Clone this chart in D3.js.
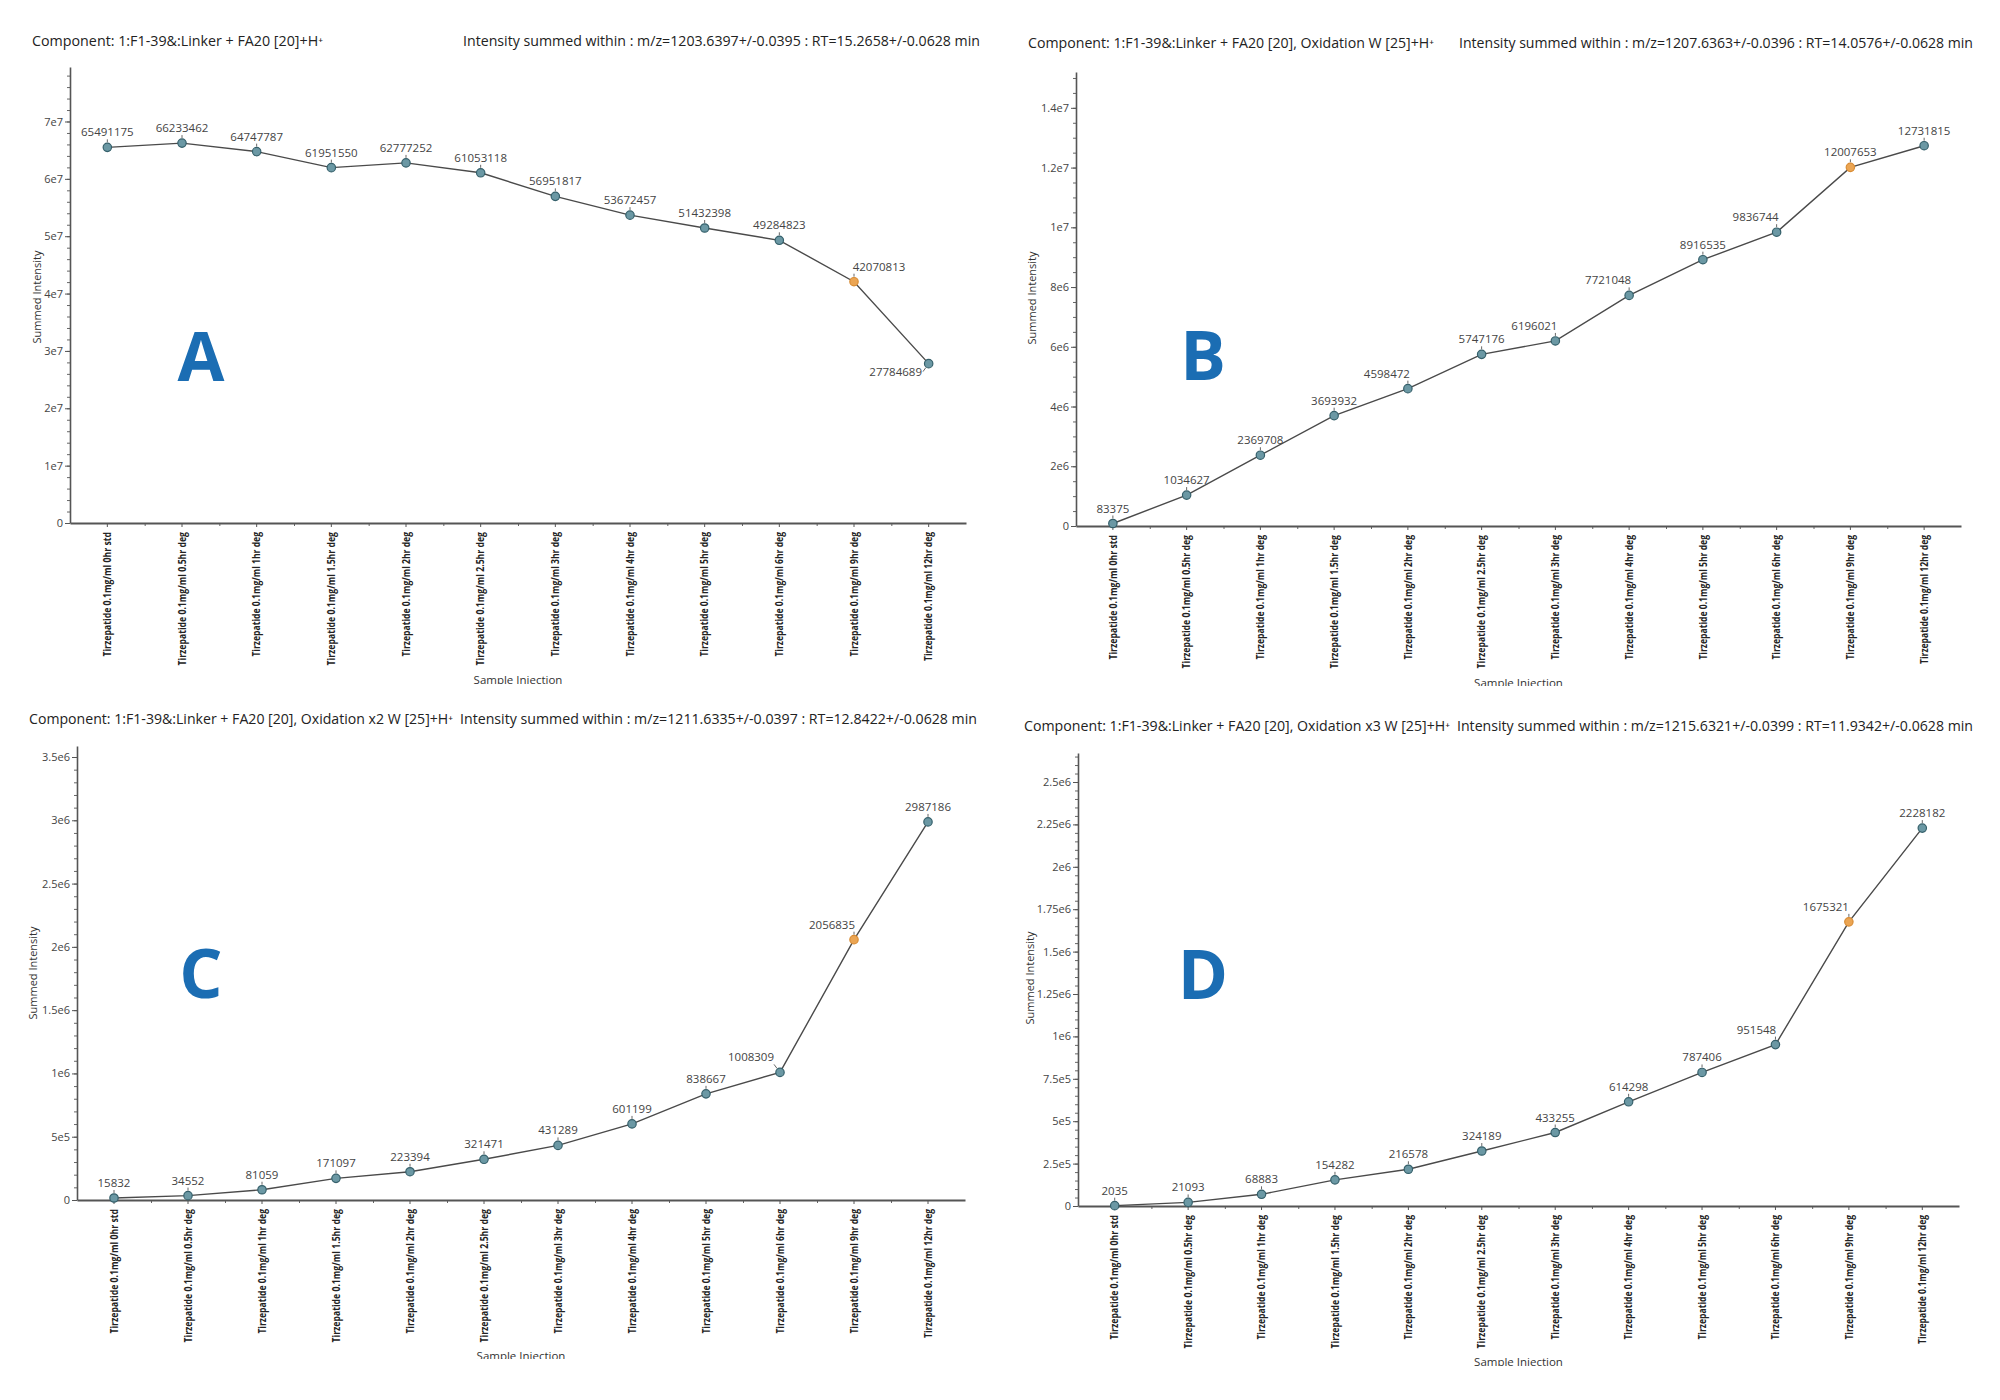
<!DOCTYPE html>
<html><head><meta charset="utf-8">
<script src="https://cdn.jsdelivr.net/npm/d3@7"></script>
<style>body{margin:0;background:#fff}text{font-family:"Open Sans","Liberation Sans",sans-serif}</style>
</head><body><svg id="c" width="2000" height="1400"></svg>
<script>
// ---------- DATA ----------
const categories = [
  "Tirzepatide 0.1mg/ml 0hr std", "Tirzepatide 0.1mg/ml 0.5hr deg", "Tirzepatide 0.1mg/ml 1hr deg",
  "Tirzepatide 0.1mg/ml 1.5hr deg", "Tirzepatide 0.1mg/ml 2hr deg", "Tirzepatide 0.1mg/ml 2.5hr deg",
  "Tirzepatide 0.1mg/ml 3hr deg", "Tirzepatide 0.1mg/ml 4hr deg", "Tirzepatide 0.1mg/ml 5hr deg",
  "Tirzepatide 0.1mg/ml 6hr deg", "Tirzepatide 0.1mg/ml 9hr deg", "Tirzepatide 0.1mg/ml 12hr deg"
];
const valuesA = [65491175, 66233462, 64747787, 61951550, 62777252, 61053118, 56951817, 53672457, 51432398, 49284823, 42070813, 27784689];
const valuesB = [83375, 1034627, 2369708, 3693932, 4598472, 5747176, 6196021, 7721048, 8916535, 9836744, 12007653, 12731815];
const valuesC = [15832, 34552, 81059, 171097, 223394, 321471, 431289, 601199, 838667, 1008309, 2056835, 2987186];
const valuesD = [2035, 21093, 68883, 154282, 216578, 324189, 433255, 614298, 787406, 951548, 1675321, 2228182];
const highlightIndex = 10;

const yTicksA = [0, 1e7, 2e7, 3e7, 4e7, 5e7, 6e7, 7e7];
const yTickLabelsA = ["0", "1e7", "2e7", "3e7", "4e7", "5e7", "6e7", "7e7"];
const yTicksB = [0, 2e6, 4e6, 6e6, 8e6, 1e7, 1.2e7, 1.4e7];
const yTickLabelsB = ["0", "2e6", "4e6", "6e6", "8e6", "1e7", "1.2e7", "1.4e7"];
const yTicksC = [0, 5e5, 1e6, 1.5e6, 2e6, 2.5e6, 3e6, 3.5e6];
const yTickLabelsC = ["0", "5e5", "1e6", "1.5e6", "2e6", "2.5e6", "3e6", "3.5e6"];
const yTicksD = [0, 2.5e5, 5e5, 7.5e5, 1e6, 1.25e6, 1.5e6, 1.75e6, 2e6, 2.25e6, 2.5e6];
const yTickLabelsD = ["0", "2.5e5", "5e5", "7.5e5", "1e6", "1.25e6", "1.5e6", "1.75e6", "2e6", "2.25e6", "2.5e6"];

const titlesLeft = [
  "Component: 1:F1-39&:Linker + FA20 [20]+H⁺",
  "Component: 1:F1-39&:Linker + FA20 [20], Oxidation W [25]+H⁺",
  "Component: 1:F1-39&:Linker + FA20 [20], Oxidation x2 W [25]+H⁺",
  "Component: 1:F1-39&:Linker + FA20 [20], Oxidation x3 W [25]+H⁺"
];
const titlesRight = [
  "Intensity summed within : m/z=1203.6397+/-0.0395 : RT=15.2658+/-0.0628 min",
  "Intensity summed within : m/z=1207.6363+/-0.0396 : RT=14.0576+/-0.0628 min",
  "Intensity summed within : m/z=1211.6335+/-0.0397 : RT=12.8422+/-0.0628 min",
  "Intensity summed within : m/z=1215.6321+/-0.0399 : RT=11.9342+/-0.0628 min"
];
const panelLetters = ["A", "B", "C", "D"];
const yAxisTitle = "Summed Intensity";
const xAxisTitle = "Sample Injection";

// ---------- LAYOUT ----------
const panels = [
  {values: valuesA, ticks: yTicksA, tickLabels: yTickLabelsA, max: 7.95e7, minor: 2e6,
   ax0: 70, ax1: 966, y0: 523, yTop: 67,
   tl: [32, 291], tr: [463, 517], ty: 46, yl: [37, 297], letter: [201, 357], xt: 680, clip: 684,
   offs: {10: [25, -11], 11: [-33, 12]}},
  {values: valuesB, ticks: yTicksB, tickLabels: yTickLabelsB, max: 1.52e7, minor: 5e5,
   ax0: 1076, ax1: 1961, y0: 526, yTop: 72,
   tl: [1028, 406], tr: [1459, 514], ty: 48, yl: [1032, 298], letter: [1203, 356], xt: 683, clip: 686,
   offs: {4: [-21, -11], 6: [-21, -11], 7: [-21, -11], 9: [-21, -11]}},
  {values: valuesC, ticks: yTicksC, tickLabels: yTickLabelsC, max: 3.587e6, minor: 1e5,
   ax0: 77, ax1: 965, y0: 1200, yTop: 746,
   tl: [29, 424], tr: [460, 517], ty: 724, yl: [33, 973], letter: [201, 974], xt: 1356, clip: 1359,
   offs: {9: [-29, -11], 10: [-22, -11]}},
  {values: valuesD, ticks: yTicksD, tickLabels: yTickLabelsD, max: 2.671e6, minor: 5e4,
   ax0: 1078, ax1: 1959, y0: 1206, yTop: 753,
   tl: [1024, 426], tr: [1457, 516], ty: 731, yl: [1030, 978], letter: [1203, 975], xt: 1362, clip: 1366,
   offs: {9: [-19, -11], 10: [-23, -11]}}
];

const svg = d3.select("#c");
const defs = svg.append("defs");

panels.forEach((p, pi) => {
  const g = svg.append("g");
  const x = d3.scaleBand().domain(categories).range([p.ax0, p.ax1]).padding(0);
  const cx = i => x(categories[i]) + x.bandwidth() / 2;
  const y = d3.scaleLinear().domain([0, p.max]).range([p.y0, p.yTop]);

  // titles
  g.append("text").attr("x", p.tl[0]).attr("y", p.ty).attr("font-size", 14).attr("fill", "#222")
    .attr("textLength", p.tl[1]).attr("lengthAdjust", "spacingAndGlyphs").text(titlesLeft[pi]);
  g.append("text").attr("x", p.tr[0]).attr("y", p.ty).attr("font-size", 14).attr("fill", "#222")
    .attr("textLength", p.tr[1]).attr("lengthAdjust", "spacingAndGlyphs").text(titlesRight[pi]);

  // minor y ticks
  g.append("g").attr("transform", `translate(${p.ax0},0)`)
    .call(d3.axisLeft(y).tickValues(d3.range(0, p.max, p.minor)).tickSize(3).tickFormat(""))
    .call(s => s.select(".domain").remove())
    .selectAll("line").attr("stroke", "#666");
  // major y axis
  const ya = g.append("g").attr("transform", `translate(${p.ax0},0)`)
    .call(d3.axisLeft(y).tickValues(p.ticks).tickFormat((d, i) => p.tickLabels[i]).tickSize(5).tickSizeOuter(0));
  ya.select(".domain").attr("stroke", "#555").attr("stroke-width", 1.6);
  ya.selectAll(".tick line").attr("stroke", "#555");
  ya.selectAll(".tick text").attr("font-size", 11).attr("fill", "#444")
    .attr("font-family", "'Open Sans',sans-serif").attr("x", -7);

  // minor x ticks (band boundaries)
  g.append("g").attr("transform", `translate(0,${p.y0})`)
    .call(d3.axisBottom(d3.scaleLinear().domain([0, 12]).range([p.ax0, p.ax1]))
      .tickValues(d3.range(1, 12)).tickSize(3).tickFormat(""))
    .call(s => s.select(".domain").remove())
    .selectAll("line").attr("stroke", "#666");
  // major x axis
  const xa = g.append("g").attr("transform", `translate(0,${p.y0})`)
    .call(d3.axisBottom(x).tickSize(4).tickSizeOuter(0));
  xa.select(".domain").attr("stroke", "#555").attr("stroke-width", 2.2);
  xa.selectAll(".tick line").attr("stroke", "#555");
  xa.selectAll(".tick text")
    .attr("transform", "rotate(-90)").attr("x", -9).attr("y", 0).attr("dy", "0.35em")
    .attr("text-anchor", "end").attr("font-size", 10.5).attr("font-weight", "bold").attr("fill", "#222")
    .attr("font-family", "'Open Sans',sans-serif")
    .attr("textLength", d => d.length * 4.45).attr("lengthAdjust", "spacingAndGlyphs");

  // axis titles
  g.append("text").attr("transform", `translate(${p.yl[0]},${p.yl[1]}) rotate(-90)`)
    .attr("text-anchor", "middle").attr("dy", "0.35em").attr("font-size", 11).attr("fill", "#333")
    .text(yAxisTitle);
  const cid = "clipx" + pi;
  defs.append("clipPath").attr("id", cid).append("rect")
    .attr("x", p.ax0).attr("y", p.xt - 20).attr("width", p.ax1 - p.ax0).attr("height", p.clip - (p.xt - 20));
  g.append("text").attr("clip-path", `url(#${cid})`).attr("x", (p.ax0 + p.ax1) / 2).attr("y", p.xt)
    .attr("text-anchor", "middle").attr("dy", "0.35em").attr("font-size", 11.5).attr("fill", "#333")
    .text(xAxisTitle);

  // panel letter
  g.append("text").attr("x", p.letter[0]).attr("y", p.letter[1]).attr("text-anchor", "middle")
    .attr("dy", "0.36em").attr("font-size", 68).attr("font-weight", "bold").attr("fill", "#1b6db3")
    .attr("font-family", "'Liberation Sans',Arial,sans-serif").text(panelLetters[pi]);

  // line
  g.append("path").datum(p.values)
    .attr("d", d3.line().x((d, i) => cx(i)).y(d => y(d)))
    .attr("fill", "none").attr("stroke", "#4a4a4a").attr("stroke-width", 1.4);

  // data labels + leaders
  p.values.forEach((v, i) => {
    const px = cx(i), py = y(v);
    const off = p.offs[i] || [0, -11];
    const t = g.append("text").attr("x", px + off[0]).attr("y", py + off[1])
      .attr("text-anchor", "middle").attr("font-size", 11.5).attr("fill", "#444").text(String(v));
    const w = t.node().getComputedTextLength();
    let ax, ay;
    if (off[1] > 0) { ax = px + off[0] + w / 2 + 1; ay = py + off[1] - 4; }
    else { ax = Math.max(px + off[0] - w / 2, Math.min(px, px + off[0] + w / 2)); ay = py + off[1] + 3; }
    const dx = px - ax, dy = py - ay, len = Math.hypot(dx, dy);
    const ex = px - dx / len * 5, ey = py - dy / len * 5;
    g.append("line").attr("x1", ax).attr("y1", ay).attr("x2", ex).attr("y2", ey)
      .attr("stroke", "#666").attr("stroke-width", 1);
  });

  // points
  g.selectAll("circle.pt").data(p.values).enter().append("circle")
    .attr("cx", (d, i) => cx(i)).attr("cy", d => y(d)).attr("r", 4.2)
    .attr("fill", (d, i) => i === highlightIndex ? "#eba553" : "#6b98a4")
    .attr("stroke", (d, i) => i === highlightIndex ? "#d98c34" : "#35606b").attr("stroke-width", 1.2);
});
</script>
</body></html>
